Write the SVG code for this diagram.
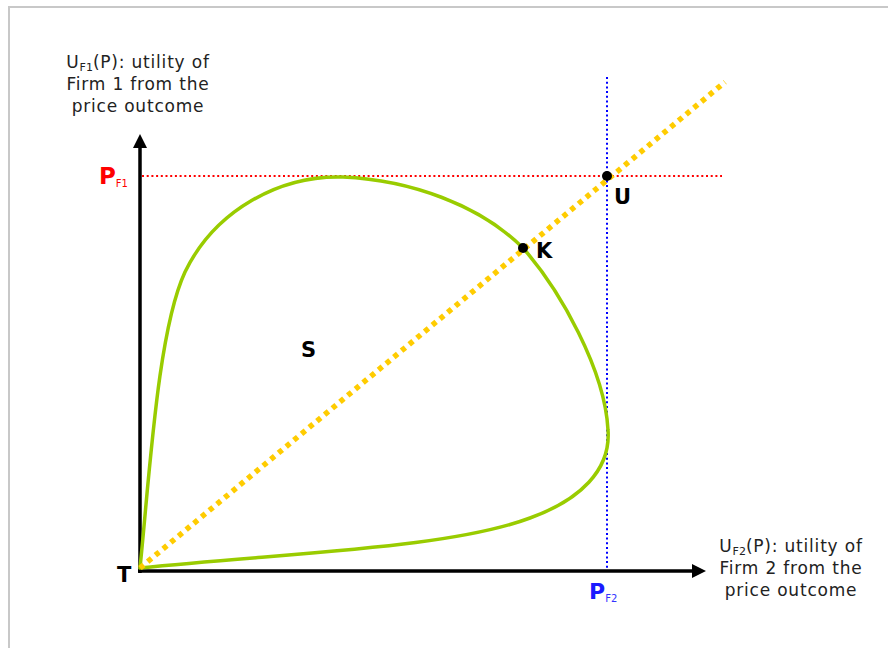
<svg xmlns="http://www.w3.org/2000/svg" width="888" height="648" viewBox="0 0 888 648">
<style>
.lbl{font-family:"DejaVu Sans","Verdana",sans-serif;font-size:17px;letter-spacing:0.8px;fill:#222;text-anchor:middle}
.pt{font-family:"DejaVu Sans","Verdana",sans-serif;font-size:21px;font-weight:bold;fill:#000}
.sub{font-size:11px;letter-spacing:0}
.axis{stroke:#000;stroke-width:3.5;fill:none}
</style>
<rect x="0" y="0" width="888" height="648" fill="#fff"/>
<rect x="9" y="7" width="900" height="700" fill="none" stroke="#c8c8c8" stroke-width="2"/>
<g id="axes">
<line class="axis" x1="140" y1="573" x2="140" y2="146"/>
<polygon points="140,134 133,148 147,148" fill="#000"/>
<line class="axis" x1="138" y1="571" x2="693" y2="571"/>
<polygon points="706,571 692,564 692,578" fill="#000"/>
</g>
<g id="connectors">
<line x1="142" y1="176" x2="722" y2="176" stroke="#ff0000" stroke-width="2" stroke-dasharray="2,2.7"/>
<line x1="607" y1="77" x2="607" y2="570" stroke="#0000ff" stroke-width="2" stroke-dasharray="2,2.7"/>
<path id="S-region" d="M140,568 C150,470 158,330 185,272 C215,210 280,175 343,177 C410,180 480,205 523,248 C560,290 605,370 608,430 C611,470 580,500 530,518 C450,548 300,552 140,568 Z" fill="none" stroke="#99cc00" stroke-width="3.5" stroke-linejoin="round"/>
<line x1="140" y1="568" x2="725" y2="82" stroke="#ffcc00" stroke-width="5.5" stroke-dasharray="5,5"/>
</g>
<g id="label-y"><text class="lbl" x="138" y="68">U<tspan class="sub" dy="3">F1</tspan><tspan dy="-3">(P): utility of</tspan></text>
<text class="lbl" x="138" y="90">Firm 1 from the</text>
<text class="lbl" x="138" y="112">price outcome</text></g>
<g id="label-x"><text class="lbl" x="791" y="552">U<tspan class="sub" dy="3">F2</tspan><tspan dy="-3">(P): utility of</tspan></text>
<text class="lbl" x="791" y="574">Firm 2 from the</text>
<text class="lbl" x="791" y="596">price outcome</text></g>
<g id="PF1"><text x="99" y="184" font-family="DejaVu Sans,sans-serif" font-weight="bold" font-size="23" fill="#ff0000">P<tspan font-size="10" font-weight="normal" dy="3">F1</tspan></text></g>
<g id="PF2"><text x="589" y="599" font-family="DejaVu Sans,sans-serif" font-weight="bold" font-size="22" fill="#1a1aff">P<tspan font-size="10" font-weight="normal" dy="3" fill="#3333ff">F2</tspan></text></g>
<g id="U"><circle cx="607" cy="176" r="5" fill="#000"/><text class="pt" x="614" y="204">U</text></g>
<g id="K"><circle cx="523" cy="248" r="5" fill="#000"/><text class="pt" x="536" y="258">K</text></g>
<g id="T"><text class="pt" x="117" y="582">T</text></g>
<g id="S"><text class="pt" x="301" y="357">S</text></g>
</svg>
